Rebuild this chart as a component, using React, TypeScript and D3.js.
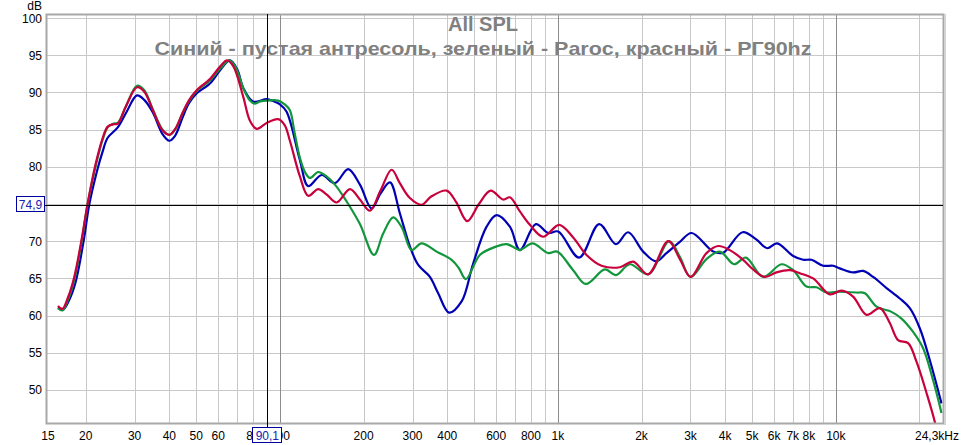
import React from "react";
import * as d3 from "d3";

const W = 966;
const H = 445;

const titleMain = "All SPL";
const titleSub = "Синий - пустая антресоль, зеленый - Paroc, красный - РГ90hz";

const yTicks = [50, 55, 60, 65, 70, 75, 80, 85, 90, 95, 100];
const yLabelsHidden = [75];
const xGrid = [20, 30, 40, 50, 60, 70, 80, 90, 100, 200, 300, 400, 500, 600, 700, 800, 900, 1000, 2000, 3000, 4000, 5000, 6000, 7000, 8000, 9000, 10000, 20000];
const xDecades = [100, 1000, 10000];
const xLabels = [15, 20, 30, 40, 50, 60, 80, 100, 200, 300, 400, 600, 800, 1000, 2000, 3000, 4000, 5000, 6000, 7000, 8000, 10000];
const endLabel = "24,3kHz";
const cursorFreq = 90.1;
const cursorDb = 74.9;

const blueData: [number, number][] = [
  [15.9, 61.1], [16.6, 60.8], [17.4, 62.0], [18.4, 64.5], [19.7, 70.2], [20.6, 74.9], [22, 79.5], [23, 82.0], [24.0, 83.9], [26.1, 85.3], [28, 87.3], [30.6, 89.6], [32.5, 89.0], [34.9, 87.3], [37.8, 84.4], [40, 83.5], [42, 84.2], [44.6, 86.6], [47, 88.5], [49.9, 89.8], [56, 91.2], [61, 93.0], [66, 94.3], [70, 93.2], [74, 90.5], [80.2, 88.75], [89.6, 89.1], [95, 88.8], [100, 88.4], [105.7, 87.4], [118, 80.9], [126.4, 77.4], [141.3, 78.9], [157.7, 77.8], [176, 79.7], [194, 77.6], [213.8, 74.4], [230, 76.4], [248.8, 77.9], [270, 73.75], [293.5, 69.3], [314.5, 66.8], [346.4, 65.2], [371, 63.0], [406, 60.4], [450.4, 61.9], [495.8, 67.0], [554, 71.95], [602, 73.5], [672, 71.95], [730, 68.8], [833, 72.3], [923, 71.1], [1003, 71.3], [1193, 67.8], [1408, 72.3], [1617, 69.6], [1790, 71.2], [2027, 68.6], [2252, 67.3], [2460, 68.4], [2747, 69.9], [3027, 71.1], [3620, 68.6], [3933, 68.45], [4617, 71.2], [5184, 70.2], [5661, 69.05], [6148, 69.7], [7022, 68.0], [7627, 67.5], [8178, 67.5], [9000, 66.7], [9780, 66.7], [10340, 66.35], [11540, 65.8], [12540, 66.0], [13620, 65.2], [15220, 63.7], [16990, 62.3], [18460, 61.0], [20050, 58.3], [21790, 54.0], [24000, 48.2],
];

const greenData: [number, number][] = [
  [15.9, 61.0], [16.5, 60.7], [17.3, 62.2], [18.2, 64.8], [19.4, 70.2], [20.3, 74.9], [21.7, 80.0], [23, 83.6], [24.0, 85.3], [25.1, 85.8], [26.1, 85.9], [27.9, 88.1], [30.6, 90.9], [32.5, 90.3], [34.9, 87.7], [37.8, 85.0], [40, 84.3], [42, 85.0], [44.6, 87.2], [47, 88.8], [49.9, 90.1], [56, 91.6], [61, 93.2], [65.7, 94.3], [69, 93.5], [74, 90.5], [78, 88.9], [81, 88.5], [85, 88.8], [90, 88.9], [98.6, 88.9], [104, 88.4], [108.6, 87.6], [113, 84.5], [118, 81.2], [123, 79.3], [128.2, 78.5], [137.3, 79.3], [146, 78.8], [157.7, 77.6], [174, 75.3], [194, 72.3], [218, 68.15], [235, 71.0], [255.6, 73.2], [275, 71.8], [297.6, 68.8], [323.4, 69.7], [366, 68.6], [414.6, 67.5], [440, 66.4], [466.7, 64.9], [524, 68.15], [602, 69.3], [654, 69.6], [700, 69.1], [730, 68.8], [811, 69.7], [923, 68.4], [994, 68.6], [1135, 66.1], [1261, 64.25], [1476, 66.2], [1617, 65.45], [1816, 66.9], [2113, 65.55], [2515, 70.0], [2747, 67.9], [3002, 65.2], [3426, 67.6], [3827, 68.6], [4308, 66.9], [4746, 67.8], [5476, 65.2], [6377, 66.9], [7022, 66.1], [7846, 63.9], [8520, 63.8], [9260, 63.1], [10060, 63.2], [11870, 63.1], [12720, 63.0], [14010, 61.2], [15860, 60.5], [17230, 59.6], [18970, 57.8], [20610, 55.6], [22390, 51.3], [24000, 46.9],
];

const redData: [number, number][] = [
  [15.9, 61.3], [16.5, 60.9], [17.3, 62.5], [18.2, 65.2], [19.4, 70.5], [20.3, 74.9], [21.7, 80.3], [23, 83.8], [24.0, 85.4], [25.1, 85.7], [26.1, 85.8], [27.9, 88.1], [30.6, 90.7], [32.5, 90.1], [34.9, 87.6], [37.8, 84.9], [40, 84.3], [42, 85.1], [44.6, 87.2], [47, 88.9], [49.9, 90.2], [56, 91.8], [61, 93.5], [64.5, 94.3], [68, 93.5], [73.8, 89.4], [78, 86.2], [82.5, 85.1], [89.6, 85.9], [98.6, 86.4], [104, 85.6], [108.6, 83.5], [118, 78.7], [126.4, 76.1], [137.3, 77.0], [147, 76.3], [160, 75.2], [178.6, 77.0], [194, 75.6], [210.8, 74.1], [230, 76.8], [252.3, 79.6], [270, 77.8], [293.5, 75.8], [323.4, 74.9], [350, 76.0], [397.8, 76.8], [430, 75.3], [471.8, 72.7], [520, 75.0], [572.6, 76.8], [636, 75.6], [672, 75.9], [730, 74.0], [793, 72.2], [885, 70.6], [1011, 72.2], [1135, 70.5], [1268, 68.15], [1436, 66.7], [1671, 66.5], [1866, 67.25], [2113, 65.55], [2494, 70.0], [2747, 67.6], [3002, 65.2], [3426, 68.4], [3773, 69.35], [4157, 68.8], [4640, 67.5], [5040, 66.2], [5554, 65.2], [6118, 65.8], [6833, 66.1], [7421, 65.7], [8286, 65.0], [9515, 62.85], [10480, 63.35], [11540, 62.55], [12900, 60.1], [14400, 61.0], [15640, 59.0], [16750, 56.7], [18200, 56.3], [19510, 53.8], [21200, 49.6], [22710, 45.7], [24000, 41.5],
];

const series = [
  { name: "blue", data: blueData, color: "#0000b4" },
  { name: "green", data: greenData, color: "#12963c" },
  { name: "red", data: redData, color: "#c8003c" },
];

const PL = 46, PR = 943, PT = 14, PB = 423;

const fmtHz = (f: number) => (f >= 1000 ? `${f / 1000}k` : `${f}`);

export default function App() {
  const x = d3.scaleLog().domain([14.4, 24300]).range([PL, PR]);
  const y = d3.scaleLinear().domain([45.56, 100.54]).range([PB, PT]);
  const line = d3
    .line<[number, number]>()
    .x((d) => x(d[0]))
    .y((d) => y(d[1]))
    .curve(d3.curveCatmullRom.alpha(0.5));

  const font = "'Liberation Sans', Arial, sans-serif";
  const cx = x(cursorFreq);
  const cy = y(cursorDb);

  return (
    <svg width={W} height={H} style={{ position: "absolute", left: 0, top: 0, background: "#fff" }} fontFamily={font}>
      <defs>
        <clipPath id="plot">
          <rect x={PL} y={PT} width={PR - PL} height={PB - PT} />
        </clipPath>
      </defs>
      <rect x={0} y={0} width={W} height={H} fill="#fff" />
      {/* grid */}
      {yTicks.map((v) => (
        <line key={"h" + v} x1={PL} x2={PR} y1={Math.round(y(v)) + 0.5} y2={Math.round(y(v)) + 0.5} stroke="#c8c8c8" />
      ))}
      {xGrid.map((f) => (
        <line
          key={"v" + f}
          x1={Math.round(x(f)) + 0.5}
          x2={Math.round(x(f)) + 0.5}
          y1={PT}
          y2={PB}
          stroke={xDecades.includes(f) ? "#8c8c8c" : "#c8c8c8"}
        />
      ))}
      {/* title */}
      <text x={483} y={31} textAnchor="middle" fontSize={20} fontWeight="bold" fill="#808080">
        {titleMain}
      </text>
      <text
        x={483}
        y={55}
        textAnchor="middle"
        fontSize={18.5}
        fontWeight="bold"
        fill="#808080"
        textLength={657}
        lengthAdjust="spacingAndGlyphs"
      >
        {titleSub}
      </text>
      {/* curves */}
      <g clipPath="url(#plot)">
        {series.map((s) => (
          <path key={s.name} d={line(s.data) || ""} fill="none" stroke={s.color} strokeWidth={2.2} strokeLinejoin="round" />
        ))}
      </g>
      {/* frame */}
      <rect x={PL + 0.5} y={PT + 0.5} width={PR - PL} height={PB - PT} fill="none" stroke="#a8a8a8" strokeWidth={2} />
      <line x1={PR + 2} x2={PR + 2} y1={PT} y2={PB + 2} stroke="#d4d4d4" strokeWidth={2} />
      {/* cursor */}
      <line x1={Math.round(cx) + 0.5} x2={Math.round(cx) + 0.5} y1={PT} y2={428} stroke="#000" />
      <line x1={45} x2={PR} y1={Math.round(cy) + 0.5} y2={Math.round(cy) + 0.5} stroke="#000" />
      {/* y labels */}
      <text x={42} y={10} textAnchor="end" fontSize={12} fill="#000">dB</text>
      {yTicks
        .filter((v) => !yLabelsHidden.includes(v))
        .map((v) => (
          <text key={"yl" + v} x={42} y={y(v) + 4.5} textAnchor="end" fontSize={12} fill="#000">
            {v}
          </text>
        ))}
      {/* x labels */}
      {xLabels.map((f, i) => (
        <text key={"xl" + f} x={i === 0 ? x(f) - 3 : x(f)} y={440} textAnchor="middle" fontSize={12} fill="#000">
          {fmtHz(f)}
        </text>
      ))}
      <text x={x(24300) + 16} y={440} textAnchor="end" fontSize={12} fill="#000">
        {endLabel}
      </text>
      {/* cursor boxes */}
      <rect x={16.5} y={196.5} width={28} height={15} fill="#fff" stroke="#0000a0" />
      <text x={30.5} y={cy + 4.5} textAnchor="middle" fontSize={12} fill="#2020b0">
        {String(cursorDb).replace(".", ",")}
      </text>
      <rect x={Math.round(cx) - 14.5} y={427.5} width={29} height={15} fill="#fff" stroke="#0000a0" />
      <text x={cx} y={440} textAnchor="middle" fontSize={12} fill="#2020b0">
        {String(cursorFreq).replace(".", ",")}
      </text>
    </svg>
  );
}
